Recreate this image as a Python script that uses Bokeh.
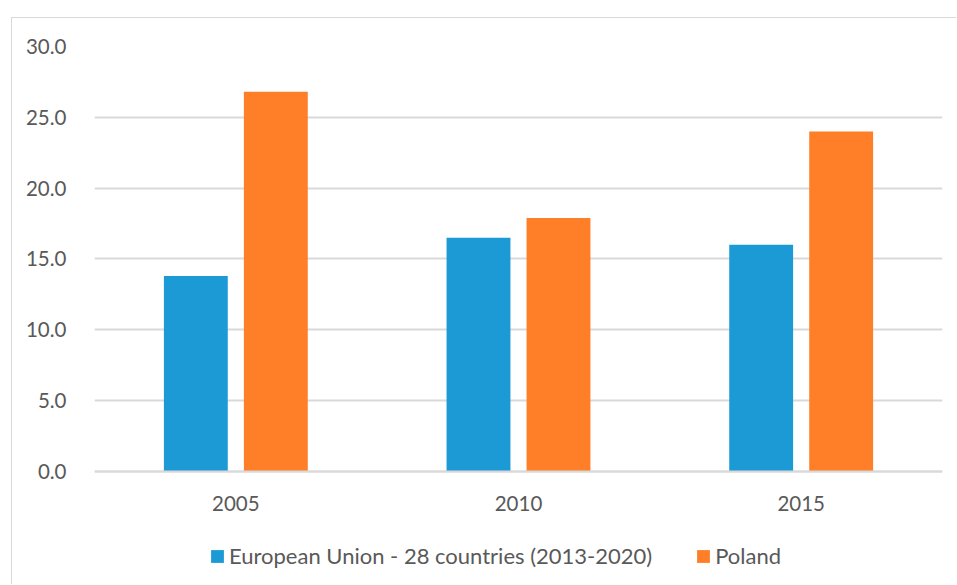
from bokeh.plotting import figure
from bokeh.models import ColumnDataSource, FactorRange, Range1d, Legend, LegendItem, FixedTicker, NumeralTickFormatter
from bokeh.transform import dodge
from bokeh.embed import file_html
from bokeh.resources import INLINE

years = ["2005", "2010", "2015"]
eu = [13.8, 16.5, 16.0]
poland = [26.8, 17.9, 24.0]
series_names = ["European Union - 28 countries (2013-2020)", "Poland"]
y_ticks = [0, 5, 10, 15, 20, 25, 30]

src = ColumnDataSource(dict(years=years, eu=eu, poland=poland))

FONT = "Lato"
FS = "20.5px"
p = figure(width=945, height=567, x_range=FactorRange(factors=years, range_padding=0),
           y_range=Range1d(-8.05, 30), output_backend="svg", toolbar_location=None,
           min_border_left=82, min_border_right=15, min_border_top=28, min_border_bottom=0)
p.margin = (17, 0, 0, 11)
p.styles = {"border-left": "1px solid #d9d9d9", "border-top": "1px solid #d9d9d9"}
p.outline_line_color = None
p.background_fill_color = "white"
p.border_fill_color = "white"

r1 = p.vbar(x=dodge("years", -0.1415, range=p.x_range), top="eu", width=0.226, source=src,
            fill_color="#1b9ad6", line_color=None)
r2 = p.vbar(x=dodge("years", 0.1415, range=p.x_range), top="poland", width=0.226, source=src,
            fill_color="#fe7f27", line_color=None)

p.yaxis.ticker = FixedTicker(ticks=y_ticks)
p.yaxis.formatter = NumeralTickFormatter(format="0.0")
p.yaxis.axis_line_color = None
p.yaxis.major_tick_line_color = None
p.yaxis.minor_tick_line_color = None
p.yaxis.major_label_standoff = 22
p.xaxis.fixed_location = 0
p.xaxis.axis_line_color = "#d9d9d9"
p.xaxis.axis_line_width = 2
p.xaxis.major_tick_line_color = None
p.xaxis.minor_tick_line_color = None
p.xaxis.major_label_standoff = 19
for ax in (p.xaxis, p.yaxis):
    ax.major_label_text_font = FONT
    ax.major_label_text_font_size = FS
    ax.major_label_text_color = "#595959"
p.xgrid.grid_line_color = None
p.ygrid.grid_line_color = "#d9d9d9"
p.ygrid.grid_line_width = 2

legend = Legend(items=[LegendItem(label=series_names[0], renderers=[r1]),
                       LegendItem(label=series_names[1], renderers=[r2])],
                orientation="horizontal", location=(115, 16),
                glyph_width=16, glyph_height=16, label_standoff=4, spacing=43,
                label_text_font=FONT, label_text_font_size="22px", label_text_color="#595959",
                border_line_color=None, background_fill_alpha=0, padding=0, margin=0)
p.add_layout(legend, "center")

open("out.html", "w").write(file_html(p, INLINE))
